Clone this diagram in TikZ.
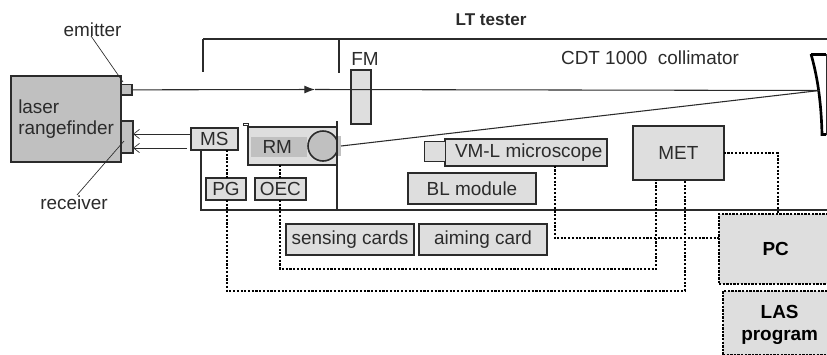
\documentclass[tikz,border=0pt]{standalone}
\usepackage{fontspec}
\setmainfont{Liberation Sans}
\usetikzlibrary{arrows.meta,positioning}
\definecolor{benchdark}{HTML}{2B2B2B}
\definecolor{benchgrey}{HTML}{C0C0C0}
\definecolor{benchlight}{HTML}{DEDEDE}
\tikzset{
  unitbox/.style={
    draw=benchdark,
    fill=benchlight,
    line width=1.4pt,
    inner sep=0pt,
    outer sep=0pt,
    align=center,
    text=benchdark,
    font=\fontsize{14.2}{17}\selectfont
  },
  hostbox/.style={
    draw=black,
    fill=benchlight,
    line width=1.8pt,
    dash pattern=on 1.8pt off 0.9pt,
    inner sep=0pt,
    outer sep=0pt,
    align=center,
    font=\fontsize{14.2}{16.5}\selectfont\bfseries
  },
  plainlabel/.style={
    inner sep=0pt,
    text=benchdark,
    font=\fontsize{14.2}{17}\selectfont
  },
  frameline/.style={line width=1.4pt, draw=benchdark},
  rayline/.style={line width=0.8pt, draw=benchdark},
  leader/.style={line width=0.5pt, draw=benchdark},
  signal/.style={
    -{Straight Barb[length=4.5pt,width=7pt,line width=0.5pt]},
    line width=0.7pt,
    draw=benchdark
  },
  dotlink/.style={line width=1.5pt, draw=black, dash pattern=on 1.6pt off 1.2pt}
}
\begin{document}
\begin{tikzpicture}[x=0.75pt,y=-0.75pt]
\useasboundingbox (0,0) rectangle (827,354);
% laser rangefinder
\node[unitbox, fill=benchgrey, minimum width=82.5pt, minimum height=64.5pt, anchor=north west] (lrf) at (11,76) {};
\node[plainlabel, align=left, anchor=north west, font=\fontsize{14.2}{15.8}\selectfont] (lrftext) at (18,99.5) {laser\\rangefinder};
\node[unitbox, fill=benchgrey, minimum width=8.5pt, minimum height=8pt, anchor=north west] (emit) at (121,84.5) {};
\node[unitbox, fill=benchgrey, minimum width=9pt, minimum height=24pt, anchor=north west] (recv) at (121,121) {};
\node[plainlabel] (emitlabel) at (92.5,30) {emitter};
\node[plainlabel] (recvlabel) at (74,202.5) {receiver};
\coordinate (emitend) at (123,82);
\coordinate (recvend) at (124,141);
\draw[leader] (91,36) -- (emitend);
\draw[leader] (77,195) -- (recvend);
% LT tester frame
\node[plainlabel, font=\fontsize{12.8}{15}\selectfont\bfseries] (ltlabel) at (491,20) {LT tester};
\coordinate (frameleft) at (203,39);
\coordinate (frameright) at (827,39);
\coordinate (tickleft) at (203,72);
\coordinate (tickmid) at (339,39);
\draw[frameline] (frameleft) -- (frameright);
\draw[frameline, line width=2pt] (frameleft) -- (tickleft);
\draw[frameline, line width=2pt] (tickmid) -- ++(0,34);
\node[plainlabel] (fmlabel) at (365,59) {FM};
\node[unitbox, minimum width=15pt, minimum height=40.5pt, anchor=north west] (fm) at (351,70) {};
\node[plainlabel] (cdtlabel) at (650,58) {CDT 1000~~collimator};
% mirror
\coordinate (mirrorpt) at (819.5,90.5);
\draw[line width=0.6pt, draw=benchdark] (826,54) -- (826,134.5);
\draw[line width=2pt, draw=black] (826,54.5) -- (810.5,54.5);
\draw[line width=2pt, draw=black] (811,54) .. controls (816,72) and (821,95) .. (822,134.5) -- (826,134.5);
% receiver module
\node[unitbox, minimum width=67pt, minimum height=28.5pt, anchor=north west] (rm) at (248,127) {};
\node[fill=benchgrey, inner sep=0pt, minimum width=42pt, minimum height=15pt, anchor=north west, text=benchdark, font=\fontsize{14.2}{17}\selectfont] (rmstrip) at (251,137) {\hspace*{-3pt}\raisebox{-1pt}{RM}};
\begin{scope}
\clip (290,120) rectangle (337,170);
\node[circle, draw=benchdark, fill=benchgrey, line width=1.2pt, minimum size=22.5pt, inner sep=0pt] (rmlens) at (323,146) {};
\end{scope}
\node[fill=benchgrey, inner sep=0pt, outer sep=0pt, minimum width=3pt, minimum height=15pt, anchor=west] (rmstub) at (337,146) {};
\node[draw=benchdark, fill=white, line width=0.6pt, inner sep=0pt, minimum width=4pt, minimum height=1.5pt] (rmmark) at (246,124) {};
% frame below
\coordinate (lowleft) at (201,210);
\coordinate (lowright) at (827,210);
\coordinate (lowmid) at (337,210);
\draw[frameline] (201,151) -- (lowleft) -- (lowright);
\draw[frameline] (337,121) -- (lowmid);
% boxes inside
\node[unitbox, minimum width=35pt, minimum height=16.5pt, anchor=north west] (ms) at (191,128) {MS};
\node[unitbox, minimum width=30pt, minimum height=16.5pt, anchor=north west] (pg) at (206,178) {PG};
\node[unitbox, minimum width=38pt, minimum height=16.5pt, anchor=north west] (oec) at (255,178) {OEC};
\node[unitbox, minimum width=121.5pt, minimum height=20pt, anchor=north west] (vml) at (445,139) {\hspace*{4pt}VM-L microscope};
\node[unitbox, line width=0.7pt, minimum width=15.75pt, minimum height=15pt, left=0pt of vml.north west, anchor=north east, yshift=-1.5pt] (vmlcam) {};
\node[unitbox, minimum width=96pt, minimum height=23pt, anchor=north west] (bl) at (408,173) {BL module};
\node[unitbox, minimum width=68pt, minimum height=40.5pt, anchor=north west] (met) at (633,126) {MET};
\node[unitbox, minimum width=96pt, minimum height=23pt, anchor=north west] (sensing) at (286,224) {sensing cards};
\node[unitbox, minimum width=96pt, minimum height=23pt, right=3.75pt of sensing] (aiming) {aiming card};
\node[hostbox, minimum width=85pt, minimum height=52.5pt, anchor=north west] (pc) at (719,214) {\raisebox{-1.5pt}{PC}};
\node[hostbox, minimum width=85pt, minimum height=48.5pt, anchor=north west, text depth=0pt] (las) at (723,291) {LAS\\program};
% rays
\coordinate (beamtip) at (315,89.5);
\draw[rayline, -{Latex[length=8pt,width=6pt]}] (emit.east) -- (beamtip);
\draw[rayline] (beamtip) -- (mirrorpt);
\draw[rayline] (rmstub.east) -- (mirrorpt);
% signals
\coordinate (sigtop) at (recv.east |- 0,134);
\coordinate (sigbot) at (recv.east |- 0,148);
\draw[signal] (ms.west |- sigtop) -- (sigtop);
\draw[signal] (187,148) -- (sigbot);
% dotted links
\coordinate (oecturn) at (656,269);
\coordinate (pgturn) at (685,291);
\coordinate (vmlturn) at (554.5,238);
\coordinate (metturn) at (778,153);
\draw[dotlink] (227,150) -- (227,178);
\draw[dotlink] (280,165) -- (280,178);
\draw[dotlink] (227,200) -- (pgturn -| 227,0) -- (pgturn) -- (pgturn |- met.south);
\draw[dotlink] (280,200) -- (oecturn -| 280,0) -- (oecturn) -- (oecturn |- met.south);
\draw[dotlink] (vmlturn |- vml.south) -- (vmlturn) -- (vmlturn -| pc.west);
\draw[dotlink] (met.east |- metturn) -- (metturn) -- (metturn |- pc.north);
\end{tikzpicture}
\end{document}
